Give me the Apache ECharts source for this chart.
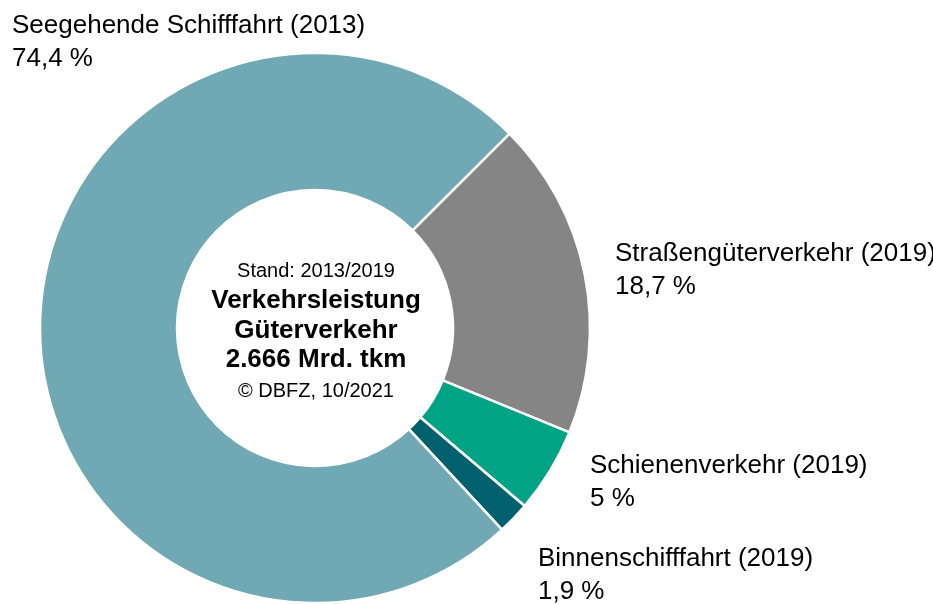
<!DOCTYPE html>
<html>
<head>
<meta charset="utf-8">
<script src="https://cdn.jsdelivr.net/npm/echarts@6/dist/echarts.min.js"></script>
<style>
  html, body { margin: 0; padding: 0; background: #fff; }
  #chart { width: 933px; height: 604px; }
</style>
</head>
<body>
<div id="chart"></div>
<script>
// Anteile Güterverkehr, im Uhrzeigersinn ab oben rechts
const categories = [
  "Straßengüterverkehr (2019)",
  "Schienenverkehr (2019)",
  "Binnenschifffahrt (2019)",
  "Seegehende Schifffahrt (2013)"
];
const shares = [18.7, 5, 1.9, 74.4];
const colors = ["#858585", "#00A385", "#00606E", "#70A8B4"];

// Lage der Beschriftungen (links oben des Textblocks)
const labelPos = [
  [615, 237],
  [590, 449],
  [538, 542],
  [12, 9]
];

const centerLines = [
  { text: "Stand: 2013/2019", y: 271, font: "normal 20px 'Liberation Sans', Arial" },
  { text: "Verkehrsleistung", y: 301, font: "bold 26px 'Liberation Sans', Arial" },
  { text: "Güterverkehr", y: 331, font: "bold 26px 'Liberation Sans', Arial" },
  { text: "2.666 Mrd. tkm", y: 360, font: "bold 26px 'Liberation Sans', Arial" },
  { text: "© DBFZ, 10/2021", y: 391, font: "normal 20px 'Liberation Sans', Arial" }
];

const fmt = (v) => String(v).replace(".", ",") + " %";

const chart = echarts.init(document.getElementById("chart"));

const option = {
  animation: false,
  backgroundColor: "#fff",
  graphic: centerLines.map((l) => ({
    type: "text",
    x: 316,
    y: l.y,
    style: {
      text: l.text,
      font: l.font,
      fill: "#000",
      align: "center",
      verticalAlign: "middle"
    }
  })),
  series: [
    {
      type: "pie",
      center: [315, 328],
      radius: [138, 275],
      startAngle: 45,
      clockwise: true,
      avoidLabelOverlap: false,
      itemStyle: { borderColor: "#fff", borderWidth: 2.5 },
      label: {
        show: true,
        position: "outside",
        color: "#000",
        fontFamily: "'Liberation Sans', Arial",
        fontSize: 26,
        lineHeight: 33,
        formatter: (p) => p.name + "\n" + fmt(p.value)
      },
      labelLine: { show: false },
      labelLayout: (p) => ({
        x: labelPos[p.dataIndex][0],
        y: labelPos[p.dataIndex][1],
        align: "left",
        verticalAlign: "top"
      }),
      emphasis: { disabled: true },
      data: categories.map((c, i) => ({
        name: c,
        value: shares[i],
        itemStyle: { color: colors[i] }
      }))
    }
  ]
};

chart.setOption(option);
</script>
</body>
</html>
